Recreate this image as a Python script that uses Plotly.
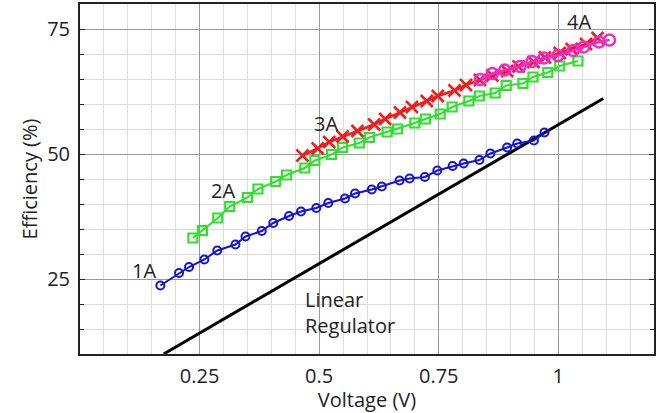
import plotly.graph_objects as go

# 1A series (blue circles)
v_1a = [0.168, 0.207, 0.228, 0.260, 0.287, 0.325, 0.346, 0.380, 0.404, 0.437,
        0.462, 0.494, 0.519, 0.554, 0.575, 0.610, 0.631, 0.668, 0.689, 0.721,
        0.747, 0.779, 0.802, 0.835, 0.858, 0.893, 0.914, 0.949, 0.971]
e_1a = [23.7, 26.2, 27.4, 28.9, 30.7, 31.9, 33.5, 34.6, 36.2, 37.6,
        38.5, 39.2, 40.2, 41.1, 42.1, 42.9, 43.5, 44.7, 45.1, 45.4,
        46.7, 47.6, 48.1, 48.8, 50.1, 51.3, 52.1, 52.7, 54.3]

# 2A series (green squares)
v_2a = [0.236, 0.256, 0.288, 0.313, 0.350, 0.372, 0.409, 0.432, 0.470, 0.491,
        0.526, 0.549, 0.584, 0.605, 0.642, 0.664, 0.700, 0.722, 0.753, 0.778,
        0.813, 0.835, 0.868, 0.891, 0.926, 0.947, 0.978, 1.003, 1.041]
e_2a = [33.2, 34.7, 37.2, 39.5, 41.3, 43.0, 44.5, 45.8, 47.2, 48.7,
        49.9, 51.3, 52.2, 53.3, 54.4, 55.0, 56.2, 57.0, 58.0, 59.4,
        60.6, 61.6, 62.2, 63.7, 64.1, 65.4, 66.3, 67.6, 68.6]

# 3A series (red crosses)
v_3a = [0.465, 0.497, 0.521, 0.549, 0.580, 0.615, 0.638, 0.669, 0.694, 0.725,
        0.748, 0.783, 0.807, 0.836, 0.862, 0.893, 0.917, 0.948, 0.972, 1.003,
        1.028, 1.058, 1.082]
e_3a = [49.7, 51.1, 52.4, 53.5, 54.6, 55.9, 57.0, 58.3, 59.4, 60.6,
        61.6, 62.7, 63.8, 64.8, 65.7, 66.6, 67.5, 68.4, 69.3, 70.2,
        71.0, 72.0, 73.2]

# 4A series (magenta circles)
v_4a = [0.837, 0.862, 0.888, 0.920, 0.945, 0.970, 0.999, 1.031, 1.053, 1.085, 1.107]
e_4a = [64.9, 66.1, 66.8, 67.5, 68.5, 69.2, 69.7, 70.7, 71.4, 72.4, 72.8]

# Linear regulator reference line
v_lin = [0.175, 1.094]
e_lin = [10.0, 61.1]

x_ticks = [0.25, 0.5, 0.75, 1.0]
x_tick_text = ["0.25", "0.5", "0.75", "1"]
y_ticks = [25, 50, 75]
y_tick_text = ["25", "50", "75"]

FONT = "Open Sans, Noto Sans, sans-serif"

fig = go.Figure()
fig.add_trace(go.Scatter(
    x=v_lin, y=e_lin, mode="lines",
    line=dict(color="#000000", width=3), showlegend=False))
fig.add_trace(go.Scatter(
    x=v_1a, y=e_1a, mode="lines+markers",
    line=dict(color="#1414d2", width=2),
    marker=dict(symbol="circle-open", size=8, color="#1414d2", line=dict(width=2)),
    showlegend=False))
fig.add_trace(go.Scatter(
    x=v_2a, y=e_2a, mode="lines+markers",
    line=dict(color="#2fe02f", width=2),
    marker=dict(symbol="square-open", size=9, color="#2fe02f", line=dict(width=2.2)),
    showlegend=False))
fig.add_trace(go.Scatter(
    x=v_3a, y=e_3a, mode="lines+markers",
    line=dict(color="#f21c1c", width=2.5),
    marker=dict(symbol="x-thin-open", size=12, color="#f21c1c",
                line=dict(width=2.5, color="#f21c1c")),
    showlegend=False))
fig.add_trace(go.Scatter(
    x=v_4a, y=e_4a, mode="lines+markers",
    line=dict(color="#ee2ccc", width=2.5),
    marker=dict(symbol="circle-open", size=11, color="#ee2ccc", line=dict(width=2.5)),
    showlegend=False))

labels = [("1A", 0.133, 26.7), ("2A", 0.299, 42.7), ("3A", 0.514, 56.1), ("4A", 1.044, 76.6)]
for txt, lx, ly in labels:
    fig.add_annotation(x=lx, y=ly, text=txt, showarrow=False,
                       font=dict(family=FONT, size=20, color="#222222"))
fig.add_annotation(x=0.466, y=18.3, text="Linear<br>Regulator", showarrow=False,
                   xanchor="left", align="left",
                   font=dict(family=FONT, size=20, color="#222222"))

fig.update_layout(
    width=666, height=413,
    margin=dict(l=80, r=12, t=2, b=59),
    paper_bgcolor="white", plot_bgcolor="white",
    font=dict(family=FONT, size=20, color="#222222"),
)
fig.update_xaxes(
    range=[0, 1.2], tickvals=x_ticks, ticktext=x_tick_text,
    tickfont=dict(size=20),
    showgrid=True, gridcolor="#999999", gridwidth=1,
    minor=dict(dtick=0.05, tick0=0, showgrid=True, gridcolor="#dcdcdc", gridwidth=1),
    showline=True, linecolor="#222222", linewidth=2, mirror=True,
    ticks="", zeroline=False, ticklabelstandoff=3,
    title=dict(text="Voltage (V)", font=dict(family=FONT, size=20), standoff=2),
)
fig.update_yaxes(
    range=[10, 80], tickvals=y_ticks, ticktext=y_tick_text,
    tickfont=dict(size=20),
    showgrid=True, gridcolor="#999999", gridwidth=1,
    minor=dict(dtick=5, tick0=0, showgrid=True, gridcolor="#dcdcdc", gridwidth=1,
               ticks="inside", ticklen=4, tickcolor="#222222"),
    showline=True, linecolor="#222222", linewidth=2, mirror="ticks",
    ticks="inside", ticklen=5, tickcolor="#222222", zeroline=False,
    ticklabelstandoff=4,
    title=dict(text="Efficiency (%)", font=dict(family=FONT, size=20), standoff=4),
)

fig.write_html("out.html")
